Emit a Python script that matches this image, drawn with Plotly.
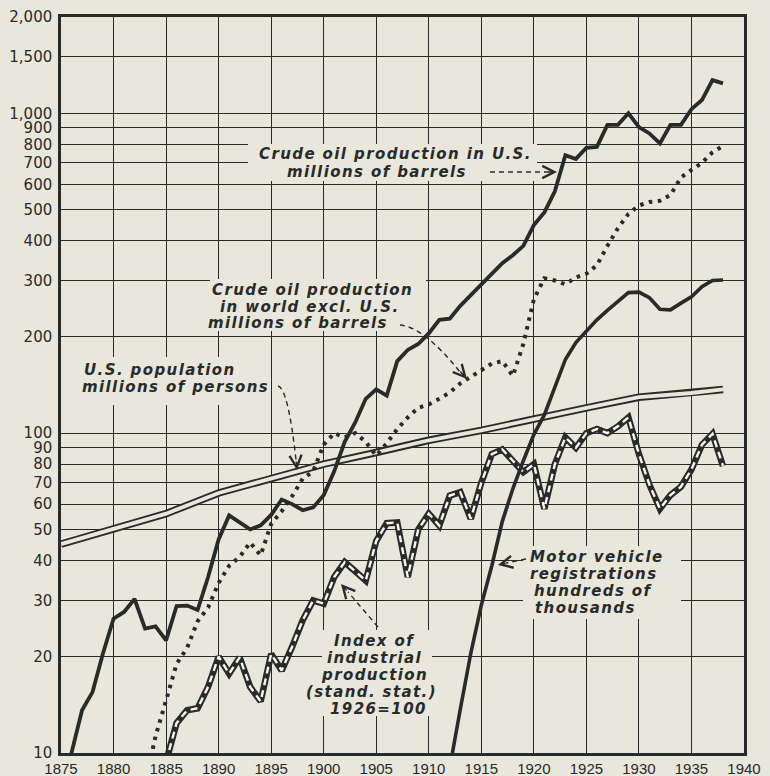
import plotly.graph_objects as go

# ---------------------------------------------------------------- data
us_oil_years = list(range(1875, 1939))
us_oil = [8.8, 10.0, 13.6, 15.5, 20.5, 26.3, 27.6, 30.3, 24.5, 24.9,
          22.5, 28.8, 28.9, 28.0, 35.5, 46.5, 55.3, 52.5, 50.0, 51.5,
          55.5, 62.0, 60.0, 57.4, 58.6, 64.0, 76.0, 94.0, 108, 128,
          137, 131, 168, 182, 190, 205, 226, 228, 250, 270,
          292, 315, 340, 360, 385, 447, 490, 570, 740, 720,
          780, 785, 920, 920, 1000, 905, 865, 805, 920, 920,
          1030, 1100, 1270, 1240]

world_oil_years = list(range(1883, 1939))
world_oil = [8.0, 11.3, 14.6, 19.0, 21.3, 25.8, 28.5, 34.0, 38.5, 41.0,
             45.5, 41.5, 52.0, 57.0, 63.5, 72.0, 76.0, 92.0, 100, 97,
             100, 94, 85, 93, 103, 112, 120, 123, 128, 134,
             143, 150, 157, 165, 168, 151, 190, 262, 305, 300,
             292, 307, 315, 335, 385, 437, 485, 515, 528, 533,
             555, 630, 665, 700, 755, 790]

pop_years = [1875, 1880, 1885, 1890, 1895, 1900, 1905, 1910, 1915, 1920,
             1925, 1930, 1935, 1938]
us_population = [45.0, 50.3, 56.0, 65.0, 72.0, 80.0, 87.0, 95.0, 102, 111,
                 120, 129.5, 133.5, 137]

index_years = list(range(1885, 1939))
industrial_index = [9.4, 12.4, 13.6, 13.8, 16.1, 20.0, 17.7, 19.9, 16.1, 14.5,
                    20.4, 18.1, 21.5, 26.0, 30.0, 29.3, 35.5, 39.5, 37.0, 34.6,
                    46.0, 52.3, 52.6, 35.5, 50.0, 56.0, 51.4, 63.8, 65.4, 54.0,
                    70.0, 86.0, 89.0, 82.0, 75.5, 80.0, 58.0, 80.0, 97.0, 90.0,
                    100, 103, 100, 105, 112, 86, 69, 58, 64, 68,
                    77, 92, 99.5, 79]

motor_years = list(range(1911, 1939))
motor_vehicles = [6.5, 9.0, 13.7, 20.5, 29.0, 38.5, 53.0, 67.0, 82.0, 99.0,
                  114, 138, 170, 192, 208, 226, 242, 257, 275, 276,
                  265, 244, 243, 255, 267, 287, 300, 301]

x_ticks = list(range(1875, 1941, 5))
y_ticks = [10, 20, 30, 40, 50, 60, 70, 80, 90, 100,
           200, 300, 400, 500, 600, 700, 800, 900, 1000, 1500, 2000]
y_tick_text = ["10", "20", "30", "40", "50", "60", "70", "80", "90", "100",
               "200", "300", "400", "500", "600", "700", "800", "900",
               "1,000", "1,500", "2,000"]

# ---------------------------------------------------------------- style
PAPER = "#e9e6dc"
INK = "#272b29"
WHITE = "#f8f6ef"
LABEL_FONT = dict(family="DejaVu Sans", size=15, color=INK, style="italic",
                  weight="bold")

# plot frame in pixels
L, R, T, B = 61, 744, 17, 753
W_FIG, H_FIG = 770, 776


def to_paper(px, py):
    return (px - L) / (R - L), (B - py) / (B - T)


fig = go.Figure()


def add_line(x, y, **line):
    fig.add_trace(go.Scatter(x=x, y=y, mode="lines", line=line,
                             hoverinfo="skip", showlegend=False))


# U.S. population: hollow double line
add_line(pop_years, us_population, color=INK, width=7.5)
add_line(pop_years, us_population, color=PAPER, width=3.8)

# industrial production index: black band with white dashes
add_line(index_years, industrial_index, color=INK, width=6.5)
add_line(index_years, industrial_index, color=WHITE, width=2.4, dash="7px,5px")

# motor vehicle registrations
add_line(motor_years, motor_vehicles, color=INK, width=3.6)

# crude oil, world excluding U.S. (dotted)
add_line(world_oil_years, world_oil, color=INK, width=4, dash="3.5px,5.5px")

# crude oil, U.S.
add_line(us_oil_years, us_oil, color=INK, width=3.8)

shapes = []
annotations = []

# paper-coloured panels that break the grid behind the captions
for (x0, y0, x1, y1) in [(248, 144, 537, 181), (210, 279, 426, 331),
                         (76, 357, 270, 405), (322, 630, 432, 716),
                         (523, 546, 681, 619)]:
    a0, b0 = to_paper(x0, y1)
    a1, b1 = to_paper(x1, y0)
    shapes.append(dict(type="rect", xref="paper", yref="paper",
                       x0=a0, y0=b0, x1=a1, y1=b1, layer="above",
                       fillcolor=PAPER, line=dict(width=0)))


def caption(lines, anchor="left"):
    for text, px, py in lines:
        xp, yp = to_paper(px, py)
        annotations.append(dict(
            xref="paper", yref="paper", x=xp, y=yp, xanchor=anchor,
            yanchor="middle", showarrow=False, font=LABEL_FONT,
            text='<span style="letter-spacing:1.4px">%s</span>' % text))


def dashed_arrow(points, tip, tail):
    d = "M " + " ".join(
        ("%s%.4f,%.4f" % (cmd, *to_paper(px, py))) for cmd, px, py in points)
    shapes.append(dict(type="path", xref="paper", yref="paper", path=d,
                       layer="above",
                       line=dict(color=INK, width=1.4, dash="5px,4px")))
    tx, ty = to_paper(*tip)
    annotations.append(dict(
        xref="paper", yref="paper", x=tx, y=ty, ax=tail[0] - tip[0],
        ay=tail[1] - tip[1], text="", showarrow=True, arrowhead=5,
        arrowsize=1.7, arrowwidth=1.4, arrowcolor=INK, standoff=0,
        startstandoff=0))


caption([("Crude oil production in U.S.", 257, 154),
         ("millions of barrels", 285, 172)])
dashed_arrow([("", 490, 172), ("L", 550, 172)], (557, 172), (547, 172))

caption([("Crude oil production", 210, 290),
         ("in world excl. U.S.", 218, 307),
         ("millions of barrels", 206, 323)])
dashed_arrow([("", 400, 325), ("Q", 424, 327), ("", 460, 372)],
             (467, 379), (459, 370))

caption([("U.S. population", 82, 370),
         ("millions of persons", 80, 387)])
dashed_arrow([("", 278, 386), ("Q", 288, 388), ("", 296, 460)],
             (297, 470), (296, 460))

caption([("Index of", 374, 641), ("industrial", 374, 658),
         ("production", 374, 675), ("(stand. stat.)", 371, 692),
         ("1926=100", 378, 709)], anchor="center")
dashed_arrow([("", 378, 627), ("L", 348, 592)], (341, 584), (348, 592))

caption([("Motor vehicle", 528, 557), ("registrations", 528, 574),
         ("hundreds of", 532, 591), ("thousands", 533, 608)])
dashed_arrow([("", 526, 559), ("L", 506, 563)], (498, 565), (507, 563))

fig.update_layout(
    width=W_FIG, height=H_FIG,
    margin=dict(l=L, r=W_FIG - R, t=T, b=H_FIG - B, pad=0,
                autoexpand=False),
    paper_bgcolor=PAPER, plot_bgcolor=PAPER,
    shapes=shapes, annotations=annotations, showlegend=False,
    xaxis=dict(range=[1875, 1940], tickvals=x_ticks, ticks="",
               showgrid=True, gridcolor=INK, gridwidth=1.3,
               showline=True, linecolor=INK, linewidth=2.5, mirror=True,
               zeroline=False, ticklabelstandoff=0, automargin=False,
               tickfont=dict(family="Liberation Sans", size=15, color=INK)),
    yaxis=dict(type="log", range=[1, 3.30103], tickvals=y_ticks,
               ticktext=y_tick_text, ticks="",
               showgrid=True, gridcolor=INK, gridwidth=1.3,
               showline=True, linecolor=INK, linewidth=2.5, mirror=True,
               zeroline=False, ticklabelstandoff=3, automargin=False,
               tickfont=dict(family="DejaVu Sans", size=15, color=INK)),
)

fig.write_html("out.html")
